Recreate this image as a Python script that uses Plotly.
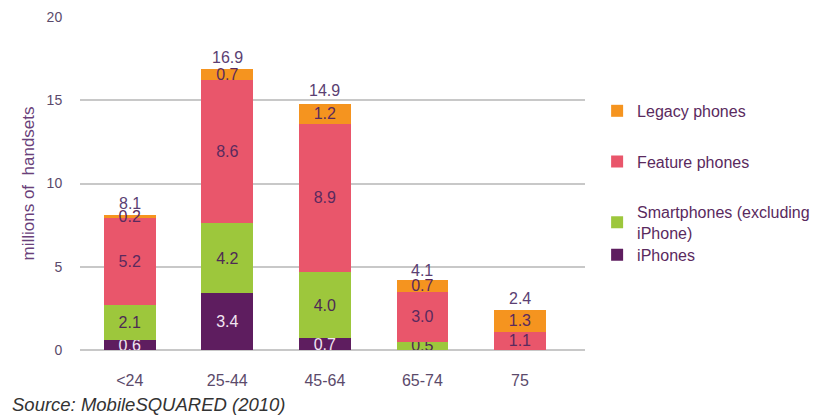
import plotly.graph_objects as go

categories = ["<24", "25-44", "45-64", "65-74", "75"]
iphones = [0.6, 3.4, 0.7, 0.0, 0.0]
smartphones = [2.1, 4.2, 4.0, 0.5, 0.0]
feature = [5.2, 8.6, 8.9, 3.0, 1.1]
legacy = [0.2, 0.7, 1.2, 0.7, 1.3]
totals = [8.1, 16.9, 14.9, 4.1, 2.4]

series = [
    ("iPhones", iphones, "#5e1d5f", "#f2e6f2", "legend4"),
    ("Smartphones (excluding<br>iPhone)", smartphones, "#9dc73c", "#4e2a55", "legend3"),
    ("Feature phones", feature, "#e9566b", "#5a2a5e", "legend2"),
    ("Legacy phones", legacy, "#f5941f", "#5a2a5e", "legend"),
]

fig = go.Figure()
for name, vals, color, tcolor, lg in series:
    fig.add_trace(go.Bar(
        x=categories, y=vals, name=name, marker_color=color,
        marker_line_width=0,
        text=[f"{v:.1f}" if v > 0 else "" for v in vals],
        textposition="inside", insidetextanchor="middle",
        constraintext="none",
        textfont=dict(family="Liberation Sans", size=16, color=tcolor),
        legend=lg,
    ))

for i, t in enumerate(totals):
    fig.add_annotation(x=i, y=t, text=f"{t:.1f}", showarrow=False,
                       yanchor="bottom", yshift=1,
                       font=dict(family="Liberation Sans", size=16, color="#5b3f73"))

fig.add_annotation(xref="paper", yref="paper", x=-0.1386, y=-0.165,
                   xanchor="left", yanchor="middle",
                   text="<i>Source: MobileSQUARED (2010)</i>", showarrow=False,
                   font=dict(family="Liberation Sans", size=18.5, color="#333333"))

legend_font = dict(family="Liberation Sans", size=16, color="#5a2a5e")
lx = 1.024
def leg(y):
    return dict(x=lx, y=y, xanchor="left", yanchor="middle",
                font=legend_font, itemwidth=30, bgcolor="rgba(0,0,0,0)")

fig.update_layout(
    width=828, height=417,
    margin=dict(l=80, r=243, t=17, b=67, autoexpand=False),
    barmode="stack", bargap=0.47,
    plot_bgcolor="white", paper_bgcolor="white",
    font=dict(family="Liberation Sans", size=14, color="#5b4a6b"),
    legend=leg(0.718),
    legend2=leg(0.566),
    legend3=leg(0.383),
    legend4=leg(0.286),
    showlegend=True,
)
fig.update_xaxes(type="category", range=[-0.51, 4.667], showgrid=False, showline=False,
                 ticks="outside", ticklen=16, tickcolor="rgba(0,0,0,0)",
                 tickfont=dict(size=16, color="#5b4a6b"))
fig.update_yaxes(range=[0, 20], dtick=5, showgrid=True, gridcolor="#c8c8c8",
                 gridwidth=2, zeroline=True, zerolinecolor="#c8c8c8", zerolinewidth=2,
                 ticks="outside", ticklen=14, tickcolor="rgba(0,0,0,0)",
                 tickfont=dict(size=14, color="#5b4a6b"),
                 title=dict(text="millions of  handsets", standoff=7,
                            font=dict(size=17, color="#6a3f7a")))

fig.write_html("out.html")
